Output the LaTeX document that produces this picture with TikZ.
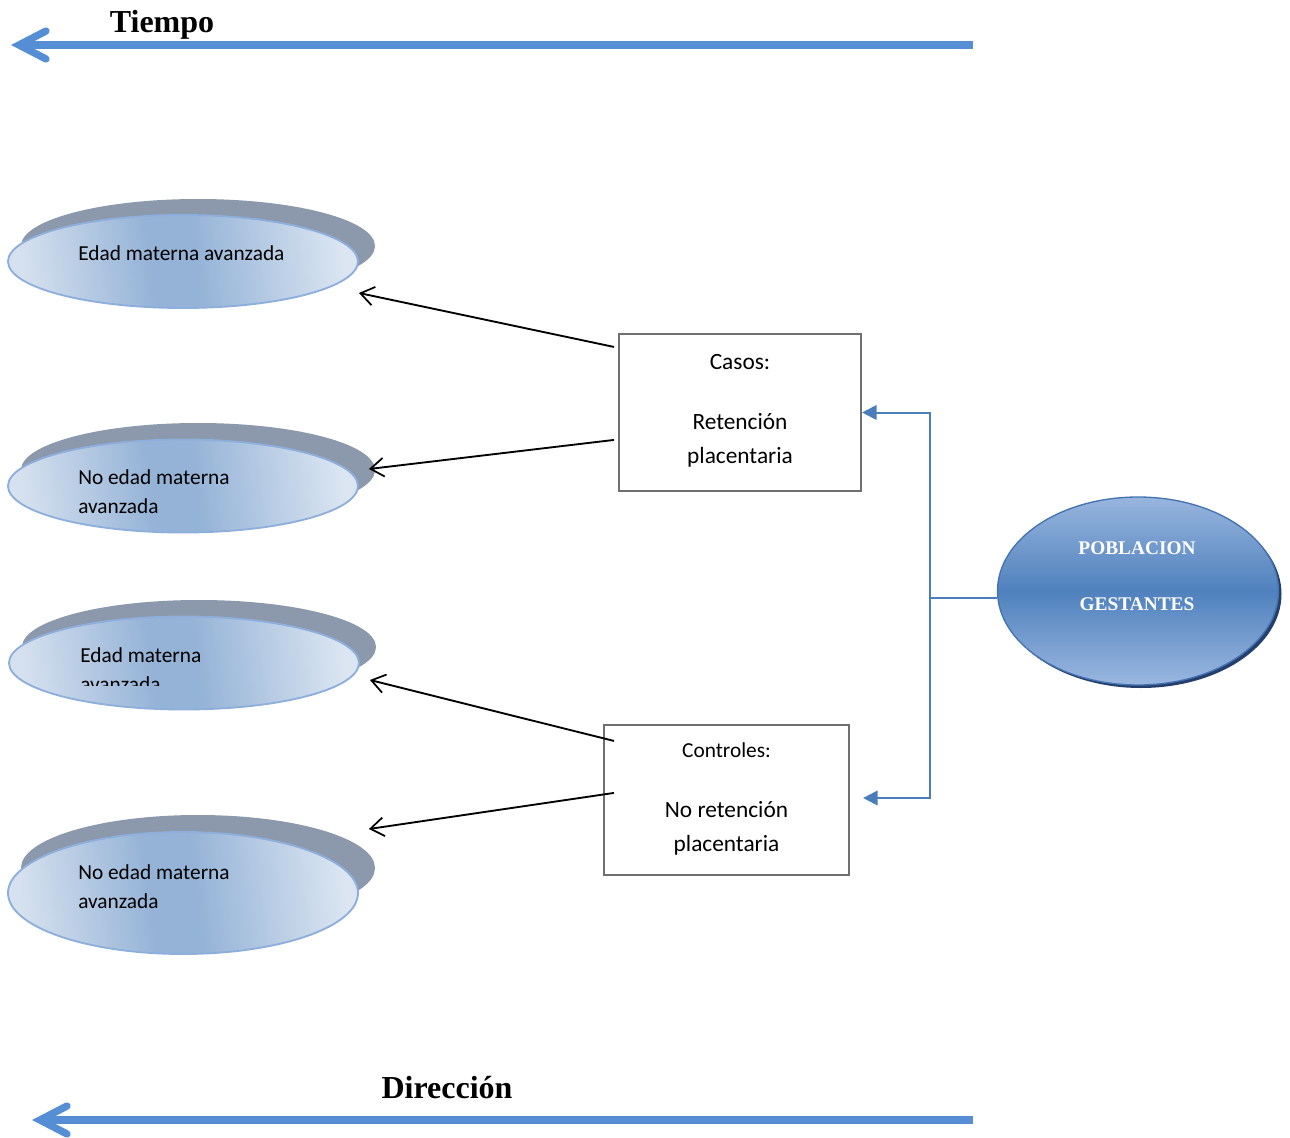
\documentclass[tikz,border=0pt]{standalone}
\usepackage{fontspec}
\setmainfont{Carlito}
\newfontfamily\tnr{Liberation Serif}
\usetikzlibrary{arrows.meta,shapes.geometric,calc}
\definecolor{arrowblue}{HTML}{558ED5}
\definecolor{connblue}{HTML}{4A7EBB}
\definecolor{elL}{HTML}{D6E1EF}
\definecolor{elM}{HTML}{95B3D7}
\definecolor{elR}{HTML}{DCE6F2}
\definecolor{elBorder}{HTML}{8EAEDB}
\definecolor{shadowgray}{HTML}{8C98AB}
\definecolor{boxgray}{HTML}{707070}
\definecolor{pobTop}{HTML}{98B5DE}
\definecolor{pobMid}{HTML}{4F81BD}
\definecolor{pobBot}{HTML}{9AB7E0}
\definecolor{pobBorder}{HTML}{4572B0}
\definecolor{pobShadow}{HTML}{243F6B}
\pgfdeclarehorizontalshading{ellshade}{100bp}{color(0bp)=(elL); color(25bp)=(elL); color(45bp)=(elM); color(52bp)=(elM); color(75bp)=(elR); color(100bp)=(elR)}
\begin{document}
\begin{tikzpicture}[x=0.75pt,y=-0.75pt,
  timeline/.style={arrowblue, line width=5.5pt},
  titletext/.style={font=\tnr\bfseries\fontsize{24}{28}\selectfont, inner sep=0pt},
  shadell/.style={ellipse, fill=shadowgray, draw=none, minimum width=265.5pt, minimum height=70.5pt, inner sep=0pt},
  mainell/.style={ellipse, draw=elBorder, line width=1.4pt, shading=ellshade, shading angle=7, minimum width=262.5pt, minimum height=69.75pt, inner sep=0pt},
  etext/.style={font=\fontsize{16}{21.75}\selectfont, align=left, inner sep=0pt, anchor=north west},
  sqbox/.style={rectangle, draw=boxgray, line width=1.6pt, fill=white, inner sep=0pt},
  btext/.style={font=\fontsize{17.5}{25.5}\selectfont, align=center, inner sep=0pt},
  blk/.style={black, line width=1.4pt, -{Straight Barb[length=10pt,width=14pt,line width=1.3pt]}},
  bconn/.style={connblue, line width=1.5pt},
  btip/.style={-{Triangle[length=11pt,width=11pt]}}
]
\useasboundingbox (0,0) rectangle (1290,1138);

% Time arrow (top)
\coordinate (tR) at (973,45);
\coordinate (tL) at (19,45);
\draw[timeline] (tR) -- (tL);
\draw[timeline, line cap=round, line join=miter] ($(tL)+(27,-14)$) -- (tL) -- ($(tL)+(27,14)$);
\node[titletext] (tiempo) at (162,25) {Tiempo};

% Direction arrow (bottom)
\coordinate (dR) at (973,1120);
\coordinate (dL) at (40,1120);
\draw[timeline] (dR) -- (dL);
\draw[timeline, line cap=round, line join=miter] ($(dL)+(27,-14)$) -- (dL) -- ($(dL)+(27,14)$);
\node[titletext] (direccion) at (447,1088) {Dirección};

% Left ellipses
\node[shadell] (e1s) at (198,246) {};
\node[mainell] (e1) at (183,261.5) {};
\node[etext, anchor=mid west] (e1t) at (78,257) {Edad materna avanzada};

\node[shadell] (e2s) at (198,470) {};
\node[mainell] (e2) at (183,486) {};
\node[etext] (e2t) at (78,469) {No edad materna\\avanzada};

\node[shadell] (e3s) at (199,647) {};
\node[mainell] (e3) at (184,663) {};
\begin{scope}
  \clip (0,600) rectangle (400,685);
  \node[etext] (e3t) at (80,647) {Edad materna\\avanzada};
\end{scope}

\node[shadell, minimum height=79.5pt] (e4s) at (198,868) {};
\node[mainell, minimum height=91.5pt] (e4) at (183,893) {};
\node[etext] (e4t) at (78,864.5) {No edad materna\\avanzada};

% Boxes
\node[sqbox, minimum width=181.5pt, minimum height=117.75pt] (casos) at (740,412.5) {};
\node[btext] (casost) at (740,411) {Casos:\\[19.5pt]Retención\\placentaria};

\node[sqbox, minimum width=183.75pt, minimum height=112.5pt] (ctrl) at (726.5,800) {};
\node[btext] (ctrlt) at (726.5,799) {{\fontsize{16}{25.5}\selectfont Controles:}\\[19.5pt]No retención\\placentaria};

% Black arrows
\draw[blk] ($(casos.north west)+(-4,14)$) -- ($(e1.east)+(0,31.5)$);
\draw[blk] ($(casos.north west)+(-4,107)$) -- ($(e2.east)+(10,-17)$);
\draw[blk] ($(ctrl.north west)+(11,17)$) -- ($(e3.east)+(10,17)$);
\draw[blk] ($(ctrl.north west)+(11,69)$) -- ($(e4.east)+(10,-64)$);

% Poblacion ellipse
\node[ellipse, fill=pobShadow, minimum width=210.75pt, minimum height=141pt, inner sep=0pt] (pobs) at (1141,594) {};
\node[ellipse, draw=pobBorder, line width=1pt, top color=pobTop, bottom color=pobBot, middle color=pobMid, minimum width=210.75pt, minimum height=141pt, inner sep=0pt] (pob) at (1138,591) {};
\node[font=\tnr\bfseries\fontsize{14.5}{42}\selectfont, text=white, align=center, inner sep=0pt] (pobt) at (1137,576) {POBLACION\\GESTANTES};

% Blue elbow connector
\coordinate (jn) at (930,598);
\draw[bconn] ($(pob.west)+(0,7)$) -- (jn);
\draw[bconn, btip] (jn) |- (casos.east);
\draw[bconn, btip] (jn) |- ($(ctrl.east)+(13,-2)$);
\end{tikzpicture}
\end{document}
